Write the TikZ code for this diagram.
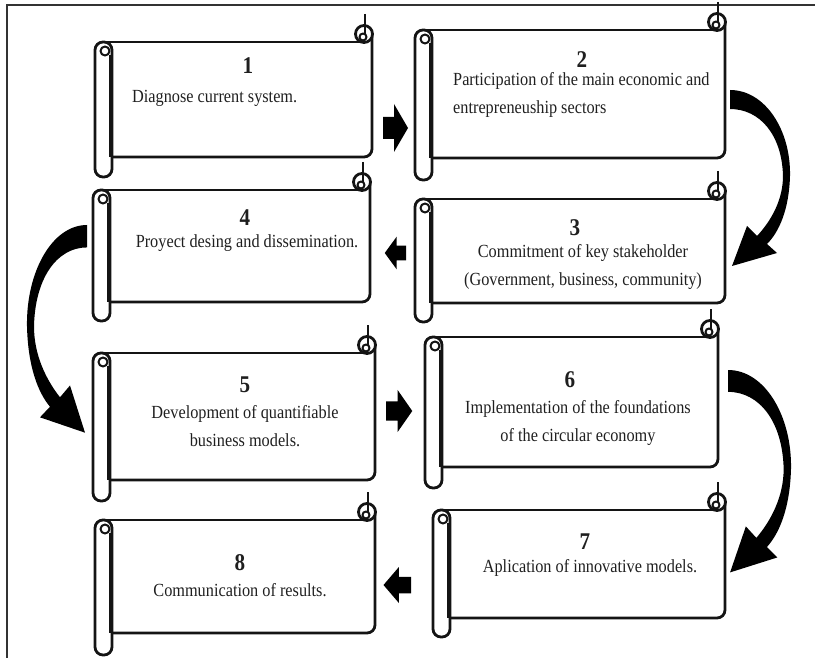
\documentclass[tikz,border=0pt]{standalone}
\usepackage{fontspec}
\setmainfont{Liberation Serif}[FakeStretch=0.88]
\usetikzlibrary{fit}
\tikzset{
  scr/.style={line width=2.8pt, draw=black!92, line join=round},
  num/.style={font=\fontsize{24}{26}\selectfont\bfseries, text=black!88, inner sep=0pt},
  txt/.style={font=\fontsize{18.5}{28}\selectfont, text=black!88, inner sep=0pt, align=center},
  frameline/.style={line width=1.4pt, draw=black!80},
  blockarrow/.pic={\fill[black] (0,-11) -- (11,-11) -- (11,-24) -- (25,0) -- (11,24) -- (11,11) -- (0,11) -- cycle;},
  curvearrow/.pic={\fill[black] (0,0) .. controls (35,0) and (61,40) .. (60,86)
     .. controls (59,120) and (49,142) .. (37,154)
     -- (47,163) -- (2,176) -- (17,136) -- (27,146)
     .. controls (41,131) and (53,110) .. (53,86)
     .. controls (52,45) and (30,19) .. (0,19) -- cycle;}
}
% #1 name, #2 xL, #3 yT, #4 xR, #5 yB, #6 tube bottom
\newcommand\scrollshape[6]{%
  \node[fit={(#2+16,#3) (#4,#5)}, inner sep=0pt] (#1) {};
  \draw[scr] (#2+8,#3) -- (#4-8,#3);
  \draw[scr, rounded corners=8pt] (#4,#3-8) -- (#4,#5) -- (#2+16,#5);
  \draw[scr, rounded corners=8pt] (#2,#3) rectangle (#2+17,#6);
  \draw[scr, line width=2pt] (#2+10,#3+9) circle[radius=4.5];
  \draw[scr, line width=2pt] (#2+14.5,#3+13) -- (#2+14.5,#5);
  \draw[scr, fill=white] (#4-8,#3-8) circle[radius=8.5];
  \draw[scr, line width=2pt] (#4-9,#3-5) circle[radius=3.5];
  \draw[scr, line width=2pt] (#4-7,#3-28) -- (#4-7,#3-8);
}
\begin{document}
\begin{tikzpicture}[x=1pt, y=-1pt]
\useasboundingbox (0,0) rectangle (815,658);
\draw[frameline] (7,658) -- (7,5) -- (815,5);

\scrollshape{s1}{95}{42}{372}{157}{177}
\scrollshape{s2}{415}{30}{725}{158}{180}
\scrollshape{s3}{415}{199}{725}{303}{322}
\scrollshape{s4}{93}{190}{370}{302}{321}
\scrollshape{s5}{93}{353}{375}{480}{501}
\scrollshape{s6}{425}{337}{718}{467}{488}
\scrollshape{s7}{433}{510}{725}{618}{637}
\scrollshape{s8}{95}{520}{375}{633}{655}

\node[num] (n1) at (248,66) {1};
\node[txt, anchor=west] (t1) at (132,98) {Diagnose current system.};
\node[num] (n2) at (582,60) {2};
\node[txt, align=left, anchor=west] (t2) at (453,95) {Participation of the main economic and\\entrepreneuship sectors};
\node[num] (n3) at (575,228) {3};
\node[txt] (t3) at (583,267) {Commitment of key stakeholder\\(Government, business, community)};
\node[num] (n4) at (245,218) {4};
\node[txt] (t4) at (247,243) {Proyect desing and dissemination.};
\node[num] (n5) at (245,385) {5};
\node[txt] (t5) at (245,426) {Development of quantifiable\\business models.};
\node[num] (n6) at (570,380) {6};
\node[txt] (t6) at (578,423) {Implementation of the foundations\\of the circular economy};
\node[num] (n7) at (585,542) {7};
\node[txt] (t7) at (590,568) {Aplication of innovative models.};
\node[num] (n8) at (240,563) {8};
\node[txt] (t8) at (240,590) {Communication of results.};

% straight connectors
\pic at (383,128) {blockarrow};
\pic[xscale=-0.85, yscale=0.68] at (406,253) {blockarrow};
\pic[xscale=1.05, yscale=0.88] at (386,411) {blockarrow};
\pic[xscale=-1.1, yscale=0.75] at (411,585) {blockarrow};

% curved connectors
\pic at (730,90) {curvearrow};
\pic[xscale=-1, yscale=1.18] at (87,225) {curvearrow};
\pic[xscale=1.05, yscale=1.15] at (728,370) {curvearrow};
\end{tikzpicture}
\end{document}
